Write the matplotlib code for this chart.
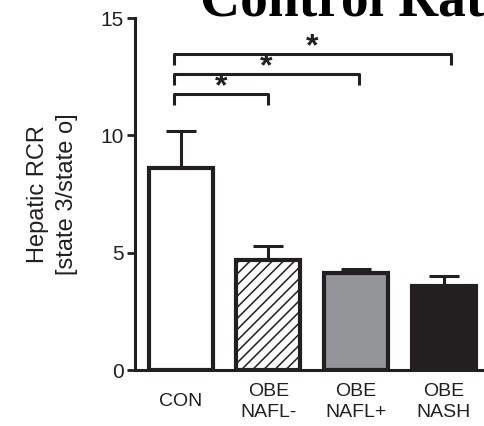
import matplotlib
matplotlib.use("Agg")
import matplotlib.pyplot as plt

categories = ["CON", "OBE\nNAFL-", "OBE\nNAFL+", "OBE\nNASH"]
means = [8.6, 4.68, 4.12, 3.6]
errors = [1.57, 0.6, 0.18, 0.4]
fills = ["white", "white", "#939598", "#231f20"]
hatches = [None, "///", None, None]
yticks = [0, 5, 10, 15]
# significance brackets: (start, end, height)
brackets = [(-0.08, 1.0, 11.75), (-0.08, 2.03, 12.6), (-0.08, 3.08, 13.45)]
ylabel = "Hepatic RCR\n[state 3/state o]"
title = "Control Rats"

plt.rcParams['font.family'] = ['Liberation Sans', 'DejaVu Sans']
plt.rcParams['hatch.linewidth'] = 1.1

fig = plt.figure(figsize=(4.85, 4.26), dpi=100)
ax = fig.add_axes([135/485, 56/426, 350/485, 352/426])

x = list(range(len(categories)))
ax.errorbar(x, means, yerr=[[0]*len(errors), errors], fmt='none',
            ecolor='#231f20', elinewidth=2.2, capsize=10.5, capthick=2.2, zorder=1)
for xi, m, f, h in zip(x, means, fills, hatches):
    ax.bar(xi, m, width=0.73, color=f, edgecolor='#231f20', linewidth=3,
           hatch=h, zorder=2)

ax.set_xlim(-0.52, 3.47)
ax.set_ylim(0, 15)
ax.set_yticks(yticks)
ax.set_yticklabels([str(t) for t in yticks], fontsize=15, color='#231f20')
ax.set_xticks(x)
ax.set_xticklabels(categories, fontsize=14, color='#231f20')
for lbl in ax.get_xticklabels():
    lbl.set_verticalalignment('center')
    lbl.set_linespacing(1.3)
ax.tick_params(axis='x', length=0, pad=23)
ax.tick_params(axis='y', length=6, width=2, direction='out', pad=2, color='#231f20')
for s in ['top', 'right']:
    ax.spines[s].set_visible(False)
for s in ['left', 'bottom']:
    ax.spines[s].set_linewidth(2.2)
    ax.spines[s].set_color('#231f20')
ax.spines['left'].set_zorder(5)

ax.set_ylabel(ylabel, fontsize=17, linespacing=1.45, color='#231f20', labelpad=16)

for x0, x1, h in brackets:
    ax.plot([x0, x0, x1, x1], [h - 0.45, h, h, h - 0.45], color='#231f20',
            lw=2.2, solid_capstyle='butt', clip_on=False)
    ax.text((x0 + x1) / 2, h + 0.32, "*", ha='center', va='center',
            fontsize=23, fontweight='bold', color='#231f20')

fig.text(200/485, 1 - 15/426, title, family='Liberation Serif', fontweight='bold',
         fontsize=40, ha='left', va='baseline', color='black')

fig.savefig("out.png", dpi=100)
